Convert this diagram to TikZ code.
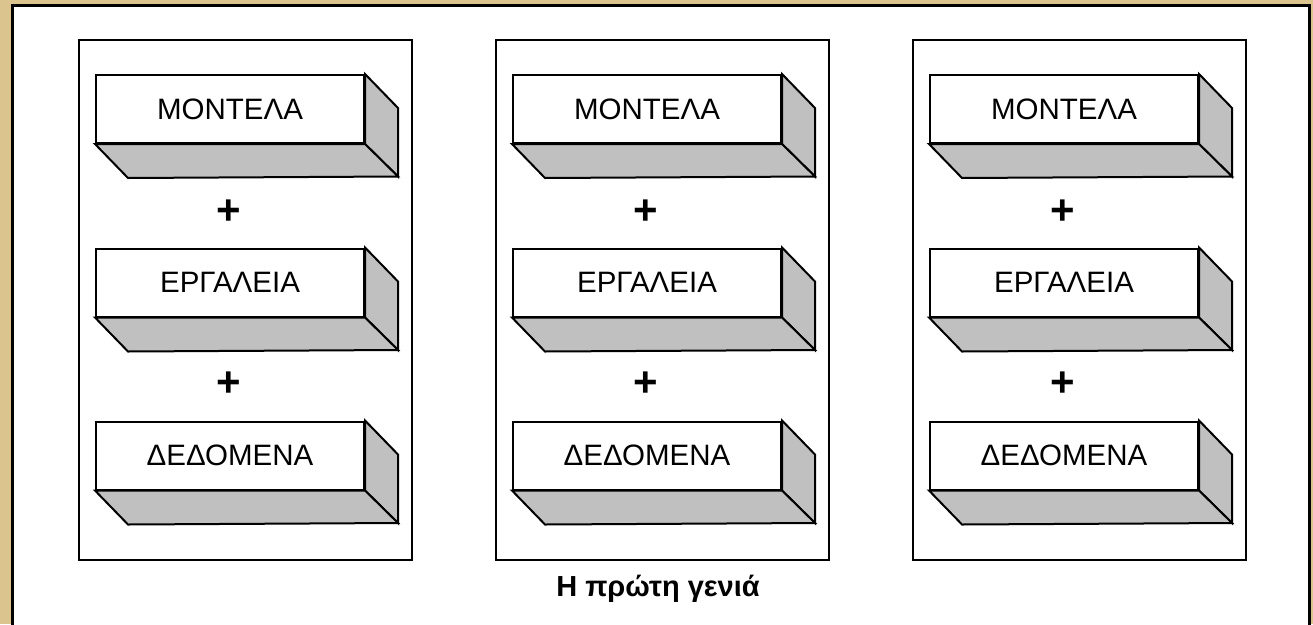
\documentclass[tikz,border=0pt]{standalone}
\usepackage{fontspec}
\setmainfont{Liberation Sans}
\usetikzlibrary{positioning}
\definecolor{parch}{HTML}{DCC48E}
\definecolor{shade}{HTML}{C0C0C0}
\tikzset{
  colbox/.style={draw,line width=2pt,minimum width=333pt,minimum height=520pt,inner sep=0pt},
  front/.style={draw,line width=2pt,fill=white,minimum width=268pt,minimum height=68pt,inner sep=0pt,font=\fontsize{29.5}{32}\selectfont},
  side/.style={draw,line width=2pt,fill=shade,line join=miter},
  plus/.style={font=\fontsize{42}{44}\selectfont\bfseries},
}
\begin{document}
\begin{tikzpicture}[x=1pt,y=-1pt]
\clip (0,0) rectangle (1313,624);
\fill[parch] (0,0) rectangle (1313,624);
\draw[line width=3pt,fill=white] (12,5) rectangle (1309,640);
\foreach \c/\cx in {1/245.5,2/662.5,3/1079.5}{
  \node[colbox] (col\c) at (\cx,300) {};
  \foreach \r/\ry/\t in {1/109/ΜΟΝΤΕΛΑ,2/282.5/ΕΡΓΑΛΕΙΑ,3/455.5/ΔΕΔΟΜΕΝΑ}{
    \node[front] (b\c\r) at (\cx-15.5,\ry) {\t};
    \draw[side](b\c\r.north east)--++(33,34)--++(0,68.5)coordinate(k\c\r)--(b\c\r.south east)--cycle;
    \draw[side](b\c\r.south west)--++(33,34)--(k\c\r)--(b\c\r.south east)--cycle;
  }
  \node[plus] (p\c1) at (\cx-17,212) {+};
  \node[plus] (p\c2) at (\cx-17,384) {+};
}
\node[font=\fontsize{29}{31}\selectfont\bfseries] (cap) at (658,589) {Η πρώτη γενιά};
\end{tikzpicture}
\end{document}
